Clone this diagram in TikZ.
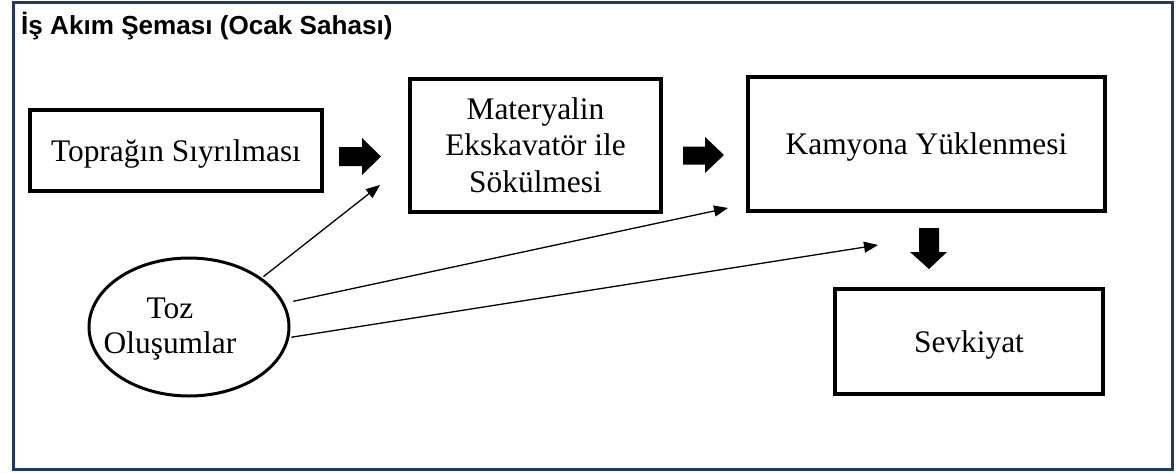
\documentclass[tikz,border=0pt]{standalone}
\usepackage{fontspec}
\setmainfont{Liberation Serif}
\newfontfamily\titlefont{Liberation Sans}
\usetikzlibrary{shapes.geometric,arrows.meta}
\definecolor{framenavy}{RGB}{31,56,110}
\newcommand{\dn}[1]{\raisebox{-3pt}[\height][\depth]{#1}}
\begin{document}
\begin{tikzpicture}[x=1pt,y=-1pt,
  stepbox/.style={draw=black, line width=4pt, rectangle, inner sep=0pt,
    font=\fontsize{31.4}{36.5}\selectfont, text height=22pt, text depth=7pt},
  multibox/.style={draw=black, line width=4pt, rectangle, inner sep=0pt,
    font=\fontsize{31.4}{36.5}\selectfont},
  blockarrow/.style={fill=black},
  thinarrow/.style={line width=1.3pt, -{Triangle[length=14pt,width=11pt]}},
]
\useasboundingbox (0,0) rectangle (1176,472);
\fill[white] (0,0) rectangle (1176,472);
\draw[framenavy, line width=2.5pt] (13.5,2.5) rectangle (1172.5,469.5);

\node[anchor=base west, inner sep=0pt, font=\titlefont\bfseries\fontsize{26.1}{31}\selectfont] (title) at (21,34) {İş Akım Şeması (Ocak Sahası)};

\node[stepbox, minimum width=292pt, minimum height=81pt] (strip) at (176,150.5) {\dn{Toprağın Sıyrılması}};
\node[multibox, minimum width=251pt, minimum height=133pt] (excav) at (535.5,145.5)
  {\dn{\begin{tabular}{@{}c@{}}Materyalin\\Ekskavatör ile\\Sökülmesi\end{tabular}}};
\node[stepbox, minimum width=357pt, minimum height=134pt] (load) at (926.5,144) {\dn{Kamyona Yüklenmesi}};
\node[stepbox, minimum width=268pt, minimum height=105pt] (ship) at (969,341.5) {\dn{Sevkiyat}};

\node[draw=black, ellipse, line width=3pt, minimum width=200pt, minimum height=138pt, inner sep=0pt] (toz) at (189,327) {};
\node[inner sep=0pt, font=\fontsize{31.4}{35}\selectfont] (tozlabel) at (170,326)
  {\dn{\begin{tabular}{@{}c@{}}Toz\\Oluşumlar\end{tabular}}};

% block arrows
\fill[blockarrow] (339,147) -- (362,147) -- (362,138) -- (381,156.5) -- (362,175) -- (362,166) -- (339,166) -- cycle;
\fill[blockarrow] (683,146.5) -- (705,146.5) -- (705,137) -- (724,155) -- (705,173) -- (705,164.5) -- (683,164.5) -- cycle;
\fill[blockarrow] (919,228) -- (939,228) -- (939,252) -- (947,252) -- (929,269) -- (910,252) -- (919,252) -- cycle;

% thin arrows
\coordinate (c1) at (380,185);
\coordinate (c2) at (728,208);
\coordinate (c3) at (878,245);
\draw[thinarrow, shorten <=2pt] (toz.34) -- (c1);
\draw[thinarrow, shorten <=9pt] (toz.14) -- (c2);
\draw[thinarrow, shorten <=2pt] (toz.-6) -- (c3);
\end{tikzpicture}
\end{document}
